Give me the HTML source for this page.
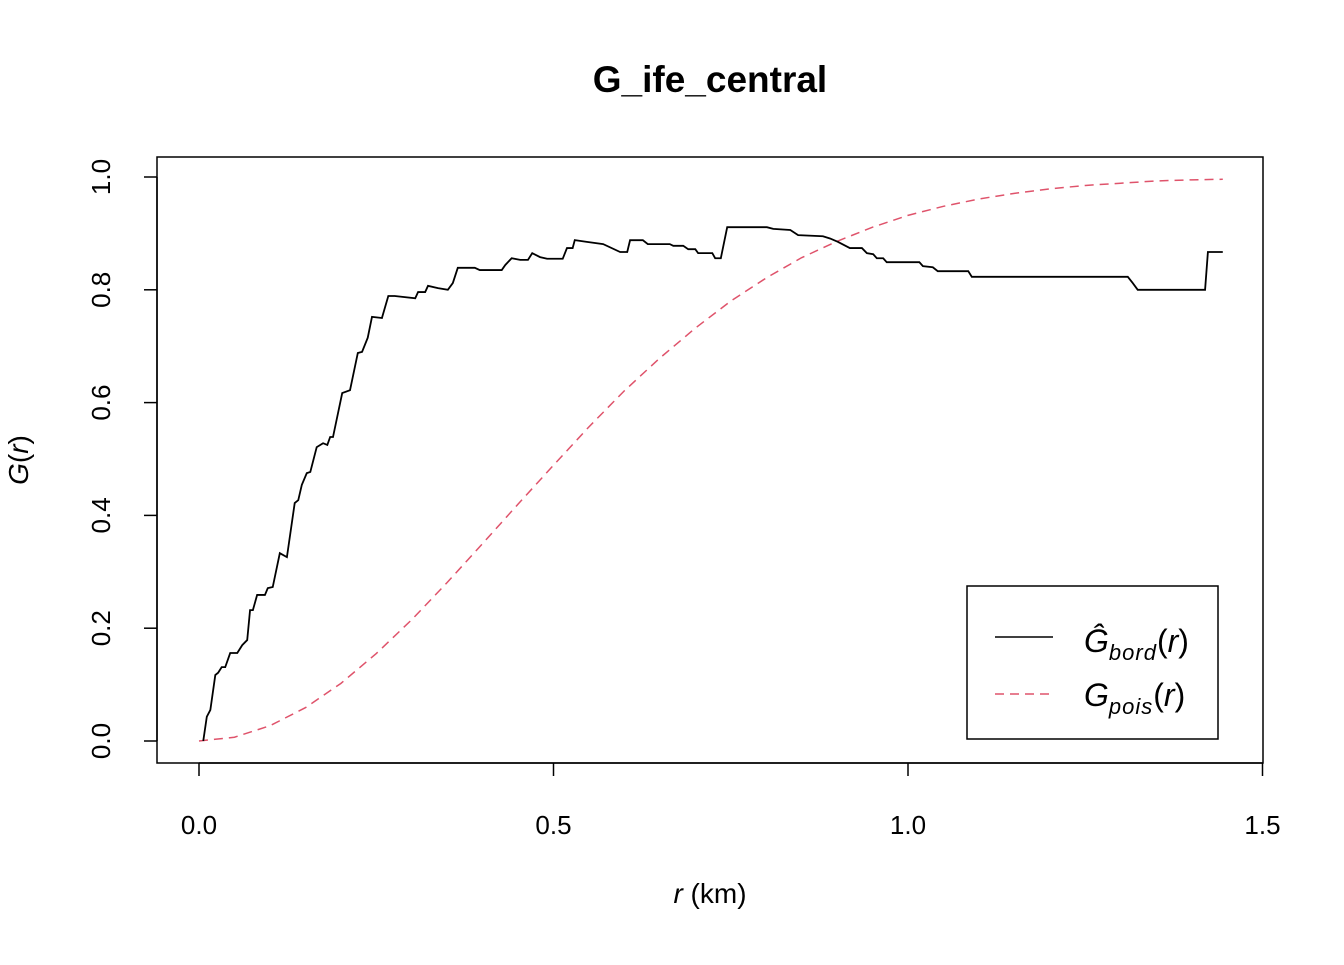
<!DOCTYPE html>
<html><head><meta charset="utf-8"><style>
body{margin:0;background:#fff}
svg text{font-family:"Liberation Sans",Arial,sans-serif;fill:#000}
</style></head><body>
<svg id="chart" width="1344" height="960" xmlns="http://www.w3.org/2000/svg">
<text x="710" y="92" font-size="37" font-weight="bold" text-anchor="middle">G_ife_central</text>
<rect x="157" y="157" width="1106" height="606" fill="none" stroke="#000" stroke-width="1.5"/>
<g id="xaxis"></g>
<g id="yaxis"></g>
<text x="710" y="903" font-size="28" text-anchor="middle"><tspan font-style="italic">r</tspan> (km)</text>
<text transform="translate(28,460) rotate(-90)" font-size="28" text-anchor="middle"><tspan font-style="italic">G</tspan>(<tspan font-style="italic">r</tspan>)</text>
<g id="series"></g>
<g>
<rect x="967" y="586" width="251" height="153" fill="#fff" stroke="#000" stroke-width="1.5"/>
<line x1="995" y1="637" x2="1053" y2="637" stroke="#000" stroke-width="1.5"/>
<line x1="995" y1="694" x2="1053" y2="694" stroke="#DF536B" stroke-width="1.5" stroke-dasharray="9,6"/>
<text x="1084" y="652" font-size="32"><tspan font-style="italic">Ĝ</tspan><tspan font-style="italic" font-size="22" dy="8" letter-spacing="1">bord</tspan><tspan dy="-8">(</tspan><tspan font-style="italic">r</tspan>)</text>
<text x="1084" y="706" font-size="32"><tspan font-style="italic">G</tspan><tspan font-style="italic" font-size="22" dy="8" letter-spacing="1">pois</tspan><tspan dy="-8">(</tspan><tspan font-style="italic">r</tspan>)</text>
</g>
</svg>
<script>
const bordR=[0.006,0.011,0.016,0.023,0.027,0.032,0.037,0.044,0.054,0.061,0.068,0.072,0.076,0.082,0.093,0.097,0.104,0.114,0.124,0.135,0.140,0.145,0.152,0.157,0.166,0.175,0.181,0.185,0.189,0.202,0.213,0.224,0.230,0.238,0.244,0.258,0.267,0.276,0.305,0.309,0.319,0.323,0.337,0.351,0.358,0.365,0.389,0.396,0.427,0.432,0.441,0.453,0.464,0.470,0.481,0.491,0.513,0.519,0.527,0.530,0.547,0.570,0.594,0.604,0.608,0.626,0.633,0.664,0.669,0.683,0.690,0.700,0.704,0.724,0.728,0.736,0.745,0.801,0.810,0.834,0.845,0.880,0.890,0.901,0.918,0.935,0.942,0.951,0.956,0.965,0.970,1.016,1.021,1.035,1.042,1.085,1.090,1.310,1.317,1.324,1.419,1.423,1.444];
const bordG=[0,0.043,0.055,0.117,0.121,0.131,0.131,0.156,0.156,0.170,0.179,0.232,0.232,0.259,0.259,0.271,0.273,0.333,0.326,0.422,0.427,0.454,0.475,0.477,0.521,0.528,0.525,0.539,0.539,0.617,0.622,0.688,0.690,0.715,0.752,0.750,0.789,0.789,0.785,0.796,0.796,0.807,0.803,0.800,0.812,0.839,0.839,0.835,0.835,0.844,0.856,0.853,0.853,0.865,0.858,0.855,0.855,0.874,0.874,0.888,0.885,0.881,0.867,0.867,0.888,0.888,0.881,0.881,0.878,0.878,0.872,0.872,0.865,0.865,0.856,0.856,0.911,0.911,0.908,0.906,0.897,0.895,0.891,0.885,0.874,0.874,0.865,0.863,0.856,0.856,0.849,0.849,0.842,0.840,0.833,0.833,0.823,0.823,0.812,0.800,0.800,0.867,0.867];
const poisR=[0,0.05,0.1,0.15,0.2,0.25,0.3,0.35,0.4,0.45,0.5,0.55,0.6,0.65,0.7,0.75,0.8,0.85,0.9,0.95,1.0,1.05,1.1,1.15,1.2,1.25,1.3,1.35,1.4,1.444];
const poisG=[0,0.0067,0.027,0.059,0.102,0.155,0.215,0.281,0.350,0.420,0.489,0.557,0.621,0.679,0.732,0.780,0.821,0.857,0.886,0.911,0.932,0.948,0.961,0.971,0.979,0.985,0.989,0.993,0.995,0.996];
const xTicks=[0,0.5,1.0,1.5];
const xTickLabels=["0.0","0.5","1.0","1.5"];
const yTicks=[0,0.2,0.4,0.6,0.8,1.0];
const yTickLabels=["0.0","0.2","0.4","0.6","0.8","1.0"];
const NS="http://www.w3.org/2000/svg";
const xs=v=>199+v*709, ys=v=>741-v*564;
function mk(tag,attrs,parent){const e=document.createElementNS(NS,tag);for(const k in attrs)e.setAttribute(k,attrs[k]);parent.appendChild(e);return e;}
const xa=document.getElementById('xaxis'), ya=document.getElementById('yaxis'), se=document.getElementById('series');
mk('line',{x1:xs(xTicks[0]),y1:763,x2:xs(xTicks[xTicks.length-1]),y2:763,stroke:'#000','stroke-width':1.5},xa);
xTicks.forEach((t,i)=>{
  mk('line',{x1:xs(t),y1:763,x2:xs(t),y2:776,stroke:'#000','stroke-width':1.5},xa);
  const tx=mk('text',{x:xs(t),y:834,'font-size':26,'text-anchor':'middle'},xa);
  
  
  tx.textContent=xTickLabels[i];
});
mk('line',{x1:157,y1:ys(yTicks[0]),x2:157,y2:ys(yTicks[yTicks.length-1]),stroke:'#000','stroke-width':1.5},ya);
yTicks.forEach((t,i)=>{
  mk('line',{x1:144,y1:ys(t),x2:157,y2:ys(t),stroke:'#000','stroke-width':1.5},ya);
  const tx=mk('text',{transform:`translate(110,${ys(t)}) rotate(-90)`,'font-size':26,'text-anchor':'middle'},ya);
  
  
  tx.textContent=yTickLabels[i];
});
const pl=mk('polyline',{points:poisR.map((r,i)=>xs(r)+','+ys(poisG[i])).join(' '),fill:'none',stroke:'#DF536B','stroke-width':1.5,'stroke-dasharray':'9,6'},se);


const bl=mk('polyline',{points:bordR.map((r,i)=>xs(r)+','+ys(bordG[i])).join(' '),fill:'none',stroke:'#000','stroke-width':1.8},se);


</script>
</body></html>
